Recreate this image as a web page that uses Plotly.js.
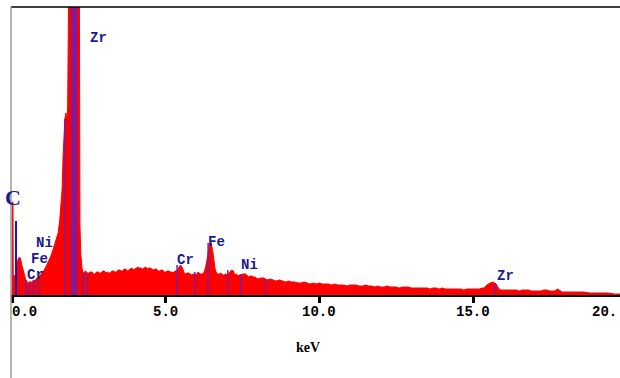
<!DOCTYPE html>
<html>
<head>
<meta charset="utf-8">
<script src="https://cdn.plot.ly/plotly-3.0.1.min.js"></script>
<style>html,body{margin:0;padding:0;background:#fff;overflow:hidden;}#chart{width:620px;height:378px;}</style>
</head>
<body>
<div id="chart"></div>
<script>
// Energy (keV) and counts (arbitrary units)
const energy = [-0.03,0.00,0.01,0.03,0.04,0.08,0.12,0.17,0.20,0.24,0.28,0.32,0.36,0.40,0.45,0.50,0.55,0.60,0.65,0.70,0.75,0.80,0.85,0.90,0.95,1.00,1.05,1.10,1.15,1.20,1.25,1.30,1.35,1.40,1.45,1.50,1.55,1.60,1.63,1.66,1.69,1.72,1.75,1.78,1.81,1.84,1.90,1.95,2.00,2.05,2.10,2.15,2.19,2.21,2.24,2.28,2.32,2.36,2.40,2.45,2.50,2.55,2.60,2.65,2.70,2.75,2.80,2.85,2.90,2.95,3.00,3.05,3.10,3.15,3.20,3.25,3.30,3.35,3.40,3.45,3.50,3.55,3.60,3.65,3.70,3.75,3.80,3.85,3.90,3.95,4.00,4.05,4.10,4.15,4.20,4.25,4.30,4.35,4.40,4.45,4.50,4.55,4.60,4.65,4.70,4.75,4.80,4.85,4.90,4.95,5.00,5.05,5.10,5.15,5.20,5.25,5.30,5.36,5.42,5.48,5.55,5.60,5.65,5.70,5.75,5.80,5.85,5.90,5.95,6.00,6.05,6.12,6.18,6.24,6.30,6.36,6.42,6.48,6.55,6.60,6.65,6.70,6.75,6.80,6.85,6.90,6.95,7.02,7.08,7.15,7.20,7.25,7.30,7.35,7.40,7.45,7.52,7.60,7.65,7.70,7.75,7.80,7.85,7.90,7.95,8.00,8.10,8.20,8.30,8.40,8.50,8.60,8.70,8.80,8.90,9.00,9.10,9.20,9.30,9.40,9.50,9.60,9.70,9.80,9.90,10.0,10.1,10.2,10.3,10.4,10.5,10.6,10.7,10.8,10.9,11.0,11.1,11.2,11.3,11.4,11.5,11.6,11.7,11.8,11.9,12.0,12.1,12.2,12.3,12.4,12.5,12.6,12.7,12.8,12.9,13.0,13.1,13.2,13.3,13.4,13.5,13.6,13.7,13.8,13.9,14.0,14.1,14.2,14.3,14.4,14.5,14.6,14.7,14.8,14.9,15.0,15.1,15.2,15.3,15.35,15.45,15.55,15.65,15.75,15.82,15.9,16.0,16.1,16.2,16.3,16.4,16.5,16.6,16.7,16.8,16.9,17.0,17.1,17.2,17.3,17.4,17.5,17.6,17.65,17.75,17.9,18.0,18.2,18.4,18.6,18.8,19.0,19.2,19.4,19.6,19.8];
const counts = [0,0,93,93,20,18,22,30,36,38,36,30,25,19,15,13,12,14,12,15,14,17,16,19,21,22,25,28,31,35,38,42,47,51,56,62,74,92,106,138,165,176,182,176,186,320,600,800,900,850,600,420,330,70,40,26,22,23,24,22,22,23,23,21,21,23,23,22,22,24,24,22,23,22,22,24,24,23,23,25,25,24,24,26,26,24,25,26,27,25,26,27,28,27,27,26,27,28,26,27,27,26,25,26,26,24,24,25,25,23,23,24,24,23,23,22,24,24,27,30,27,22,21,22,22,21,20,21,21,20,23,21,21,22,28,38,50,52,40,27,22,21,21,22,20,20,21,20,23,25,24,20,21,19,20,20,21,21,19,18,19,19,18,18,17,16,17,17,15,16,15,14,15,14,13,14,13,13,12,12,13,12,11,12,11,12,11,11,11,10,11,10,10,10,9,10,10,10,9,9,10,9,9,8,9,8,8,9,8,8,8,7,8,8,8,7,7,7,7,7,7,6,7,7,6,7,6,6,6,6,6,6,5,6,6,6,6,6,7,7,10,12,13,11,7,5,5,5,5,5,5,4,5,5,5,4,4,4,4,5,5,4,4,4,6,3,3,3,3,3,2,2,2,2,1,1,1];

// Element marker lines (keV) and their heights
const cLineE = [0.13];
const cLineH = [74];
const zrLE = [1.97, 2.07];
const zrLH = [900, 900];
const markE = [0.45, 0.57, 0.70, 0.85, 1.72, 2.31, 2.45, 5.37, 5.95, 6.38, 7.02, 7.45, 8.26, 15.72];
const markH = [15, 12, 15, 16, 176, 22, 22, 30, 23, 52, 25, 21, 16, 12];

// Element labels
const labelText = ["Zr", "Ni", "Fe", "Cr", "Cr", "Fe", "Ni", "Zr"];
const labelE = [2.80, 1.07, 0.91, 0.75, 5.63, 6.64, 7.71, 16.04];
const labelH = [257, 52, 36, 20, 35, 53, 30, 19];

// Tick labels (the last one is cut by the right edge in the source: "20.")
const tickVals = [0, 5, 10, 15];
const tickText = ["0.0", "5.0", "10.0", "15.0"];
const edgeTickText = "20.";

function segs(xs, hs) {
  const x = [], y = [];
  xs.forEach((e, i) => { x.push(e, e, null); y.push(0, hs[i], null); });
  return {x, y};
}

const s1 = segs(markE, markH), s2 = segs(zrLE, zrLH), s3 = segs(cLineE, cLineH);

const traces = [
  {x: energy, y: counts, type: 'scatter', mode: 'lines', fill: 'tozeroy',
   fillcolor: '#ff0000', line: {color: '#ff0000', width: 1}, hoverinfo: 'skip'},
  {x: s1.x, y: s1.y, type: 'scatter', mode: 'lines', line: {color: '#7a1e9e', width: 1.5}, hoverinfo: 'skip'},
  {x: s2.x, y: s2.y, type: 'scatter', mode: 'lines', line: {color: '#7a1e9e', width: 3}, hoverinfo: 'skip'},
  {x: s3.x, y: s3.y, type: 'scatter', mode: 'lines', line: {color: '#1414c0', width: 2}, hoverinfo: 'skip'}
];

const navy = '#1a1a8e';
const tickFont = {family: 'Liberation Mono, Courier New, monospace', size: 14, color: '#000', weight: 'bold'};
const annotations = [];
labelText.forEach((t, i) => annotations.push({
  x: labelE[i], y: labelH[i], xref: 'x', yref: 'y', text: t, showarrow: false,
  font: {family: 'Liberation Mono, Courier New, monospace', size: 14, color: navy, weight: 'bold'},
  xanchor: 'center', yanchor: 'middle'
}));
annotations.push({x: 0.03, y: 98, xref: 'x', yref: 'y', text: 'C', showarrow: false,
  font: {family: 'Liberation Serif, Times New Roman, serif', size: 22, color: navy, weight: 'bold'},
  xanchor: 'center', yanchor: 'middle'});
tickVals.forEach((v, i) => {
  annotations.push({x: v, y: -17/288, xref: 'x', yref: 'paper', text: tickText[i], showarrow: false,
    xshift: i === 0 ? -2 : 0, font: tickFont,
    xanchor: i === 0 ? 'left' : 'center', yanchor: 'middle'});
});
annotations.push({x: 1, y: -17/288, xref: 'paper', yref: 'paper', text: edgeTickText, showarrow: false,
  xshift: -1, font: tickFont, xanchor: 'right', yanchor: 'middle'});
annotations.push({x: 0.487, y: -52/288, xref: 'paper', yref: 'paper', text: 'keV', showarrow: false,
  font: {family: 'Liberation Serif, Times New Roman, serif', size: 14, color: '#000', weight: 'bold'},
  xanchor: 'center', yanchor: 'middle'});

const layout = {
  width: 620, height: 378,
  margin: {l: 11, r: 0, t: 7, b: 83, pad: 0},
  paper_bgcolor: '#fff', plot_bgcolor: '#fff',
  showlegend: false,
  xaxis: {range: [-0.033, 19.78], showgrid: false, zeroline: false, showline: true,
    linecolor: '#000', linewidth: 2, ticks: 'outside', ticklen: 6, tickwidth: 3, tickcolor: '#000',
    tickvals: tickVals, showticklabels: false, fixedrange: true},
  yaxis: {range: [0, 288], visible: false, fixedrange: true},
  annotations: annotations,
  shapes: [
    {type: 'line', xref: 'paper', yref: 'paper', x0: 0, x1: 1, y0: 1, y1: 1, line: {color: '#000', width: 1.5}},
    {type: 'line', xref: 'paper', yref: 'paper', x0: 0, x1: 0, y0: -83/288, y1: 1, line: {color: '#9a9a9a', width: 1.5}}
  ]
};

Plotly.newPlot('chart', traces, layout, {displayModeBar: false, staticPlot: true});
</script>
</body>
</html>
